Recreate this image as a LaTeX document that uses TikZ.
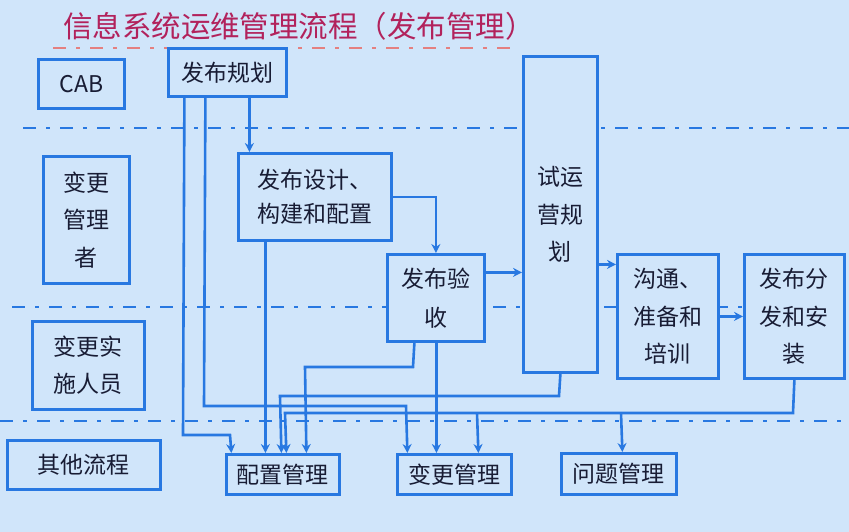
\documentclass[tikz,border=0pt]{standalone}
\usepackage{fontspec}
\setmainfont{Noto Sans CJK SC}
\usetikzlibrary{arrows.meta,calc}
\definecolor{bgc}{RGB}{208,229,250}
\definecolor{bl}{RGB}{40,120,225}
\definecolor{txt}{RGB}{24,28,52}
\definecolor{ttl}{RGB}{178,34,92}
\definecolor{rdash}{RGB}{228,128,128}
\begin{document}
\begin{tikzpicture}[x=1pt,y=-1pt,
  box/.style={draw=bl, line width=2.8pt, fill=bgc, text=txt,
    font=\fontsize{23}{37.5}\selectfont, align=center, inner sep=0pt, anchor=north west},
  conn/.style={draw=bl, line width=2.6pt},
  arr/.style={conn, -{Stealth[length=9pt,width=9pt]}},
  sepline/.style={draw=bl, line width=2.8pt, dash pattern=on 13pt off 10pt on 4pt off 10pt},
  redline/.style={draw=rdash, line width=2.8pt, dash pattern=on 13pt off 10pt on 4pt off 10pt},
]
\fill[bgc] (0,0) rectangle (849,532);
\useasboundingbox (0,0) rectangle (849,532);

% title
\node[text=ttl, font=\fontsize{29.5}{31}\selectfont] (title) at (299,26) {信息系统运维管理流程（发布管理）};
\coordinate (r1) at (53,48); \coordinate (r2) at (510,48);
\draw[redline] (r1) -- (r2);

% swimlane separators
\coordinate (s1a) at (23,128); \coordinate (s1b) at (849,128);
\coordinate (s2a) at (12,307); \coordinate (s2b) at (849,307);
\coordinate (s3a) at (0,421);  \coordinate (s3b) at (849,421);
\draw[sepline] (s1a) -- (s1b);
\draw[sepline] (s2a) -- (s2b);
\draw[sepline] (s3a) -- (s3b);

% lane labels
\node[box, minimum width=86pt, minimum height=49pt] (cab) at (37,58) {CAB};
\node[box, minimum width=86pt, minimum height=127pt] (mgr) at (42,155) {变更\\管理\\者};
\node[box, minimum width=112pt, minimum height=88pt] (impl) at (31,320) {变更实\\施人员};
\node[box, minimum width=153pt, minimum height=49pt] (other) at (6,439) {其他流程};

% process boxes
\node[box, minimum width=118pt, minimum height=48pt] (plan) at (167,47) {发布规划};
\node[box, minimum width=153pt, minimum height=87pt, font=\fontsize{23}{34}\selectfont] (design) at (237,152) {发布设计、\\构建和配置};
\node[box, minimum width=97pt, minimum height=87pt, font=\fontsize{23}{39}\selectfont] (accept) at (386,253) {发布验\\收};
\node[box, minimum width=74pt, minimum height=316pt] (trial) at (522,55) {试运\\营规\\划};
\node[box, minimum width=101pt, minimum height=124pt] (comm) at (616,253) {沟通、\\准备和\\培训};
\node[box, minimum width=100pt, minimum height=124pt] (dist) at (743,253) {发布分\\发和安\\装};
\node[box, minimum width=113pt, minimum height=40pt] (cfg) at (225,453) {配置管理};
\node[box, minimum width=114pt, minimum height=40pt] (chg) at (396,453) {变更管理};
\node[box, minimum width=115pt, minimum height=41pt] (prob) at (560,452) {问题管理};

% connectors
\draw[arr] ([xshift=22pt]plan.south) -- ([xshift=-65.5pt]design.north);
\draw[arr] ([xshift=-43pt]plan.south) -- (183,435) -- (230,435) -- ([xshift=-51.5pt]cfg.north);
\draw[arr] ([xshift=-22pt]plan.south) -- (204,406) -- (406,406) -- ([xshift=-47pt]chg.north);
\draw[arr] (design.east) -| (accept.north);
\draw[arr] ([xshift=-49.5pt]design.south) -- ([xshift=-17.5pt]cfg.north);
\draw[arr] ([yshift=25.5pt]accept.east) -- ([yshift=-58pt]trial.west);
\draw[arr] ([xshift=-21.5pt]accept.south) -- (413,367) -- (305,367) -- ([xshift=23.5pt]cfg.north);
\draw[arr] ([xshift=0.5pt]accept.south) -- ([xshift=-18pt]chg.north);
\draw[arr] ([yshift=-50pt]trial.east) -- ([yshift=52pt]comm.west);
\draw[arr] (trial.south) -- (559,396) -- (280,396) -- ([xshift=-1.5pt]cfg.north);
\draw[arr] (comm.east) -- (dist.west);
\draw[arr] (dist.south) -- (793,413) -- (285,413) -- ([xshift=3.5pt]cfg.north);
\coordinate (j1) at (477,413);
\coordinate (j2) at (621,413);
\draw[arr] (j1) -- ([xshift=24pt]chg.north);
\draw[arr] (j2) -- ([xshift=3.5pt]prob.north);
\end{tikzpicture}
\end{document}
